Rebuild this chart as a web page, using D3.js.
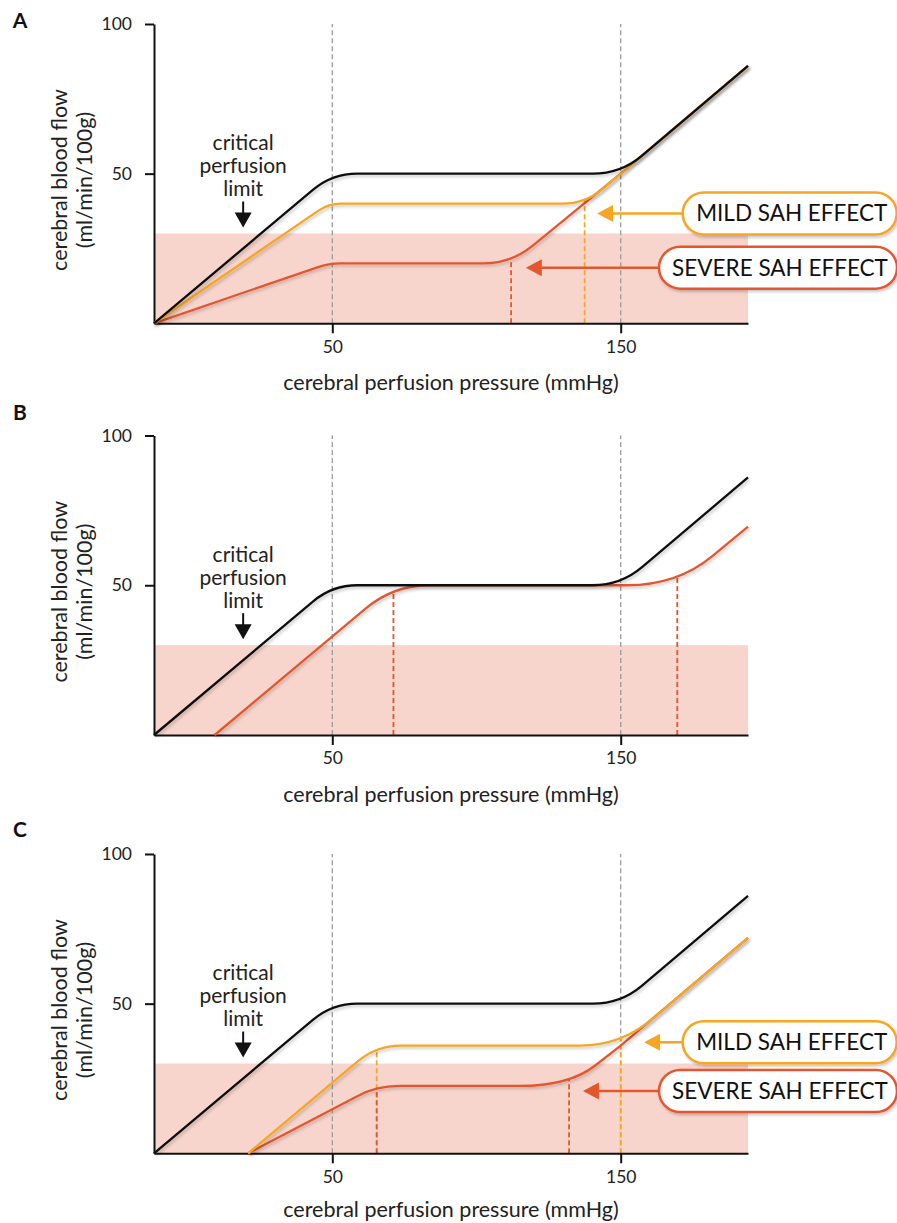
<!DOCTYPE html>
<html>
<head>
<meta charset="utf-8">
<script src="https://cdn.jsdelivr.net/npm/d3@7"></script>
<style>
  body { margin: 0; background: #fff; }
  svg { font-family: Lato, "Noto Sans", sans-serif; }
</style>
</head>
<body>
<svg id="chart" width="897" height="1223"></svg>
<script>
// ---- data (pressure in mmHg, flow in ml/min/100g) ----
// the pressure axis is schematic: 0-50 and 150+ are drawn wider than the plateau
const xBreaks = [0, 50, 150, 186];
const xTicks = [50, 150];
const yTicks = [50, 100];
const autoregLimits = [50, 150];
const ischemiaFlow = 30;
const criticalArrowTip = [25, 32];

// curve vertices [pressure, flow]
const normalCurve = [[0, 0], [50, 50], [150, 50], [186, 86]];
const mildA = [[0, 0], [49, 40], [137.5, 40], [150, 50], [186, 86]];
const severeA = [[0, 0], [49, 20], [112, 20], [150, 50], [186, 86]];
const severeB = [[17, 0], [71.2, 50], [166, 50], [186, 69.6]];
const mildC = [[26.4, 0], [65.4, 36], [150, 36], [186, 72]];
const severeC = [[26.4, 0], [65.4, 22.5], [132.1, 22.5], [150, 36], [186, 72]];

// pressures marked by a dashed drop line (shifted limits)
const mildDropsA = [137.5];
const severeDropsA = [112];
const severeDropsB = [71.2, 166];
const mildDropsC = [65.4, 150];
const severeDropsC = [65.4, 132.1];

// label arrows: tip [pressure, flow]
const mildTipA = [141.8, 36.7];
const severeTipA = [117.1, 18.6];
const mildTipC = [156.6, 37.1];
const severeTipC = [136.9, 20.8];

const labelText = { mild: "MILD SAH EFFECT", severe: "SEVERE SAH EFFECT" };
const panelNames = ["A", "B", "C"];

// ---- styles / layout ----
const color = { normal: "#111111", mild: "#f6a623", severe: "#e4572e" };
const panelTop = [24, 435.5, 854];
const panelBottom = [323.3, 735, 1153.3];
const letterY = [21, 413, 830];
const titleOffset = [59, 59, 56];
const left = 154, right = 748;
const pillLeft = { mild: 682.7, severe: 659 };
const pillWidth = { mild: 214, severe: 238 };

// corner rounding (px) for each vertex of each curve
const round = {
  normal: [0, 25, 28, 0],
  mildA: [0, 12, 22, 0, 0],
  severeA: [0, 12, 28, 0, 0],
  severeB: [0, 36, 50, 0],
  mildC: [0, 24, 40, 0],
  severeC: [0, 22, 50, 0, 0]
};

const panels = [
  {
    series: [
      { key: "severe", pts: severeA, r: round.severeA, drops: severeDropsA },
      { key: "mild", pts: mildA, r: round.mildA, drops: mildDropsA },
      { key: "normal", pts: normalCurve, r: round.normal, drops: [] }
    ],
    labels: [{ key: "mild", tip: mildTipA }, { key: "severe", tip: severeTipA }]
  },
  {
    series: [
      { key: "severe", pts: severeB, r: round.severeB, drops: severeDropsB },
      { key: "normal", pts: normalCurve, r: round.normal, drops: [] }
    ],
    labels: []
  },
  {
    series: [
      { key: "severe", pts: severeC, r: round.severeC, drops: severeDropsC },
      { key: "mild", pts: mildC, r: round.mildC, drops: mildDropsC },
      { key: "normal", pts: normalCurve, r: round.normal, drops: [] }
    ],
    labels: [{ key: "mild", tip: mildTipC }, { key: "severe", tip: severeTipC }]
  }
];

const svg = d3.select("#chart");

// soft shadow under the curves
const defs = svg.append("defs");
const f = defs.append("filter").attr("id", "shadow")
  .attr("x", "-10%").attr("y", "-10%").attr("width", "130%").attr("height", "130%");
f.append("feDropShadow").attr("dx", 1.5).attr("dy", 2).attr("stdDeviation", 1.4)
  .attr("flood-color", "#000").attr("flood-opacity", 0.22);

const x = d3.scaleLinear().domain(xBreaks).range([left, 332.3, 620.7, right]);

// polyline with rounded corners (quadratic at each vertex)
function roundedPath(pts, radii) {
  const p = d3.path();
  p.moveTo(pts[0][0], pts[0][1]);
  for (let i = 1; i < pts.length - 1; i++) {
    const [x0, y0] = pts[i - 1], [x1, y1] = pts[i], [x2, y2] = pts[i + 1];
    const r = radii[i] || 0;
    if (!r) { p.lineTo(x1, y1); continue; }
    const d1 = Math.hypot(x0 - x1, y0 - y1), d2 = Math.hypot(x2 - x1, y2 - y1);
    const c1 = Math.min(r, d1 / 2), c2 = Math.min(r, d2 / 2);
    p.lineTo(x1 + (x0 - x1) / d1 * c1, y1 + (y0 - y1) / d1 * c1);
    p.quadraticCurveTo(x1, y1, x1 + (x2 - x1) / d2 * c2, y1 + (y2 - y1) / d2 * c2);
  }
  const last = pts[pts.length - 1];
  p.lineTo(last[0], last[1]);
  return p.toString();
}

// y on a drawn path at a given screen x (binary search along its length)
function yAtX(node, px) {
  const L = node.getTotalLength();
  let lo = 0, hi = L;
  for (let k = 0; k < 40; k++) {
    const mid = (lo + hi) / 2;
    if (node.getPointAtLength(mid).x < px) lo = mid; else hi = mid;
  }
  return node.getPointAtLength(lo).y;
}

panels.forEach((panel, i) => {
  const y = d3.scaleLinear().domain([0, 100]).range([panelBottom[i], panelTop[i]]);
  const g = svg.append("g");

  // ischemic zone
  g.append("rect")
    .attr("x", x(0)).attr("y", y(ischemiaFlow))
    .attr("width", x(xBreaks[xBreaks.length - 1]) - x(0))
    .attr("height", y(0) - y(ischemiaFlow))
    .attr("fill", "#f8d5cc");

  // autoregulation limits
  g.selectAll(".limit").data(autoregLimits).enter().append("line")
    .attr("x1", d => x(d)).attr("x2", d => x(d))
    .attr("y1", y(0)).attr("y2", y(100))
    .attr("stroke", "#9b9b9b").attr("stroke-width", 1.3)
    .attr("stroke-dasharray", "5,3");

  const dropG = g.append("g");

  // axes
  const xAxis = g.append("g").attr("transform", `translate(0,${y(0)})`)
    .call(d3.axisBottom(x).tickValues(xTicks).tickSize(10).tickSizeOuter(0).tickPadding(7));
  const yAxis = g.append("g").attr("transform", `translate(${left},0)`)
    .call(d3.axisLeft(y).tickValues(yTicks).tickSize(9).tickSizeOuter(0).tickPadding(13));
  [xAxis, yAxis].forEach(a => {
    a.attr("font-family", null).attr("font-size", null);
    a.select(".domain").attr("stroke", "#111").attr("stroke-width", 2);
    a.selectAll(".tick line").attr("stroke", "#111").attr("stroke-width", 2);
    a.selectAll(".tick text").attr("fill", "#222").style("font-size", "17.5px");
  });

  // curves
  const curveG = g.append("g");
  const paths = {};
  panel.series.forEach(s => {
    const px = s.pts.map(d => [x(d[0]), y(d[1])]);
    paths[s.key] = curveG.append("path")
      .attr("d", roundedPath(px, s.r))
      .attr("fill", "none")
      .attr("stroke", color[s.key])
      .attr("stroke-width", 2.3)
      .attr("stroke-linejoin", "round")
      .attr("filter", "url(#shadow)");
  });

  // dashed drops to the shifted limits, mild first so severe sits on top
  ["mild", "severe"].forEach(key => {
    const s = panel.series.find(d => d.key === key);
    if (!s) return;
    s.drops.forEach(p => {
      const top = yAtX(paths[key].node(), x(p));
      dropG.append("line")
        .attr("x1", x(p)).attr("x2", x(p))
        .attr("y1", y(0)).attr("y2", top)
        .attr("stroke", color[key]).attr("stroke-width", 1.8)
        .attr("stroke-dasharray", "5,3");
    });
  });

  // panel letter
  svg.append("text").attr("x", 20).attr("y", letterY[i]).attr("dy", "0.35em")
    .attr("text-anchor", "middle").style("font-weight", 700).style("font-size", "21px")
    .attr("fill", "#111").text(panelNames[i]);

  // axis titles
  svg.append("text").attr("x", 451).attr("y", y(0) + titleOffset[i]).attr("dy", "0.35em")
    .attr("text-anchor", "middle").style("font-size", "21.5px").attr("fill", "#222")
    .text("cerebral perfusion pressure (mmHg)");
  const yt = svg.append("g").attr("transform", `translate(0,${y(0) - 143.3})`);
  [["cerebral blood flow", 59], ["(ml/min/100g)", 84]].forEach(([t, cx]) => {
    yt.append("text").attr("transform", `translate(${cx},0) rotate(-90)`)
      .attr("dy", "0.35em").attr("text-anchor", "middle")
      .style("font-size", "21.5px").attr("fill", "#222").text(t);
  });

  // critical perfusion limit
  const ax = x(criticalArrowTip[0]), ay = y(criticalArrowTip[1]);
  ["critical", "perfusion", "limit"].forEach((t, k) => {
    g.append("text").attr("x", ax).attr("y", ay - 85 + k * 23).attr("dy", "0.35em")
      .attr("text-anchor", "middle").style("font-size", "21px").attr("fill", "#222").text(t);
  });
  g.append("line").attr("x1", ax).attr("x2", ax).attr("y1", ay - 26).attr("y2", ay - 12)
    .attr("stroke", "#111").attr("stroke-width", 2);
  g.append("path").attr("d", `M${ax - 8.5},${ay - 15}L${ax + 8.5},${ay - 15}L${ax},${ay}Z`)
    .attr("fill", "#111");

  // effect labels
  panel.labels.forEach(l => {
    const tx = x(l.tip[0]), ty = y(l.tip[1]);
    const c = color[l.key];
    g.append("line").attr("x1", tx + 12).attr("x2", pillLeft[l.key]).attr("y1", ty).attr("y2", ty)
      .attr("stroke", c).attr("stroke-width", 2.5);
    g.append("path").attr("d", `M${tx},${ty}L${tx + 16},${ty - 8.5}L${tx + 16},${ty + 8.5}Z`)
      .attr("fill", c);
    g.append("rect").attr("x", pillLeft[l.key]).attr("y", ty - 21)
      .attr("width", pillWidth[l.key]).attr("height", 42).attr("rx", 21)
      .attr("fill", "#fff").attr("stroke", c).attr("stroke-width", 2.5)
      .attr("filter", "url(#shadow)");
    g.append("text").attr("x", pillLeft[l.key] + pillWidth[l.key] / 2 + 2).attr("y", ty)
      .attr("dy", "0.35em").attr("text-anchor", "middle")
      .style("font-size", "22.5px").attr("fill", "#111").text(labelText[l.key]);
  });
});
</script>
</body>
</html>
